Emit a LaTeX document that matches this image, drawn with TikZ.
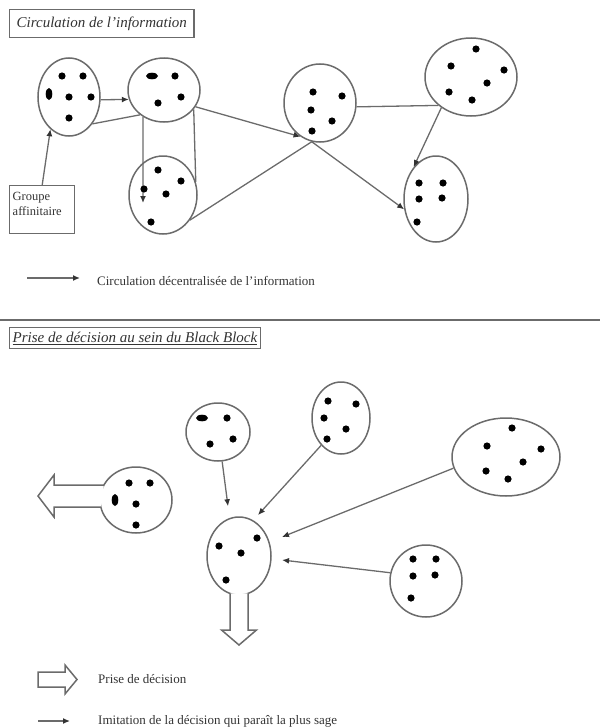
\documentclass[tikz,border=0pt]{standalone}
\usepackage{fontspec}
\setmainfont{Liberation Serif}
\usetikzlibrary{shapes.geometric,arrows.meta,calc}
\definecolor{ln}{gray}{0.42}
\definecolor{tx}{gray}{0.2}
\newcommand\mydot[2]{\fill (#1,#2) circle[radius=3.6pt];}
\newcommand\mydotv[2]{\fill (#1,#2) ellipse[x radius=3.3pt,y radius=6pt];}
\newcommand\mydoth[2]{\fill (#1,#2) ellipse[x radius=6pt,y radius=3.3pt];}
\begin{document}
\begin{tikzpicture}[x=1pt,y=-1pt,
  grp/.style={ellipse, draw=ln, line width=1.5pt, fill=white, inner sep=0pt},
  con/.style={draw=ln, line width=1.3pt},
  arr/.style={con, -{Latex[length=7pt,width=6pt,fill=black!80,color=black!80]}},
  blk/.style={draw=ln, line width=1.5pt, fill=white, line join=miter},
  txt/.style={font=\fontsize{13}{15}\selectfont, text=tx, inner sep=0pt},
  titlebox/.style={draw=ln, line width=1.4pt, font=\fontsize{15}{17}\selectfont, text=tx},
]
\useasboundingbox (0,0) rectangle (600,728);

% ---------- top part ----------
\node[titlebox, anchor=north west, inner xsep=7pt, minimum height=28pt] (t1) at (9,9) {\itshape Circulation de l'information};

\node[grp, minimum width=62pt, minimum height=78pt] (A) at (69,97) {};
\node[grp, minimum width=72pt, minimum height=64pt] (B) at (164,90) {};
\node[grp, minimum width=68pt, minimum height=78pt] (C) at (163,195) {};
\node[grp, minimum width=72pt, minimum height=78pt] (D) at (320,103) {};
\node[grp, minimum width=92pt, minimum height=78pt] (E) at (471,77) {};
\node[grp, minimum width=64pt, minimum height=86pt] (F) at (436,199) {};

\node[draw=ln, line width=1.4pt, anchor=north west, inner sep=3pt, align=left,
      text width=59pt, text height=12pt, text depth=30pt,
      font=\fontsize{12.5}{15}\selectfont, text=tx] (gr) at (9,185) {Groupe\\affinitaire};

\draw[arr] (gr.north) -- (A.240);
\draw[arr] (A.-5) -- (B.195);
\draw[con] (B.226) -- (A.-49);
\draw[arr] (B.232) -- ($(C.center)+(-20,8)$);
\draw[con] (B.-33) -- (C.22);
\draw[arr] (B.-28) -- (D.240);
\draw[con] (C.-43) -- (D.258);
\draw[arr] (D.258) -- (F.198);
\draw[con] (D.-6) -- (E.221);
\draw[arr] (E.226) -- (F.125);

\mydot{62}{76}\mydot{83}{76}\mydotv{49}{94}\mydot{69}{97}\mydot{91}{97}\mydot{69}{118}
\mydoth{152}{76}\mydot{175}{76}\mydot{158}{103}\mydot{181}{97}
\mydot{158}{170}\mydot{181}{181}\mydot{144}{189}\mydot{166}{194}\mydot{151}{222}
\mydot{313}{92}\mydot{342}{96}\mydot{311}{110}\mydot{332}{121}\mydot{312}{131}
\mydot{476}{49}\mydot{451}{66}\mydot{504}{70}\mydot{487}{83}\mydot{449}{92}\mydot{472}{100}
\mydot{419}{183}\mydot{443}{183}\mydot{419}{199}\mydot{442}{198}\mydot{417}{222}

\coordinate (l1a) at (27,278);
\coordinate (l1b) at (80,278);
\draw[arr] (l1a) -- (l1b);
\node[txt, anchor=base west] (l1t) at (97,285) {Circulation décentralisée de l'information};

\draw[ln, line width=2pt] (0,320) -- (600,320);

% ---------- bottom part ----------
\node[titlebox, anchor=north west, inner xsep=3pt, inner ysep=1pt, minimum height=21pt] (t2) at (9,327) {\itshape\underline{Prise de décision au sein du Black Block}};

\node[grp, minimum width=72pt, minimum height=66pt] (G) at (136,500) {};
\node[grp, minimum width=64pt, minimum height=58pt] (H) at (218,432) {};
\node[grp, minimum width=64pt, minimum height=78pt] (I) at (239,556) {};
\node[grp, minimum width=58pt, minimum height=72pt] (J) at (341,418) {};
\node[grp, minimum width=108pt, minimum height=78pt] (K) at (506,457) {};
\node[grp, minimum width=72pt, minimum height=72pt] (L) at (426,581) {};

\draw[blk] ($(G.center)+(-32.1,-15)$) -- ($(G.center)+(-82,-15)$) -- ($(G.center)+(-82,-25)$)
  -- ($(G.center)+(-98,-4)$) -- ($(G.center)+(-82,17)$) -- ($(G.center)+(-82,7)$) -- ($(G.center)+(-35.2,7)$);
\draw[blk] ($(I.center)+(-9,37.4)$) -- ($(I.center)+(-9,74)$) -- ($(I.center)+(-17.5,74)$)
  -- ($(I.center)+(0,89)$) -- ($(I.center)+(17.5,74)$) -- ($(I.center)+(9,74)$) -- ($(I.center)+(9,37.4)$);

\draw[arr] (H.278) -- ($(I.north)+(-11,-10)$);
\draw[arr] (J.234) -- ($(I.center)+(19,-41)$);
\draw[arr] (K.192) -- ($(I.center)+(43,-19)$);
\draw[arr] (L.167) -- ($(I.center)+(43,4)$);

\mydot{129}{483}\mydot{150}{483}\mydotv{115}{500}\mydot{136}{504}\mydot{136}{525}
\mydoth{202}{418}\mydot{227}{418}\mydot{210}{444}\mydot{233}{439}
\mydot{219}{546}\mydot{257}{538}\mydot{241}{553}\mydot{226}{580}
\mydot{328}{401}\mydot{356}{404}\mydot{324}{418}\mydot{346}{429}\mydot{327}{439}
\mydot{512}{428}\mydot{487}{446}\mydot{541}{449}\mydot{523}{462}\mydot{486}{471}\mydot{508}{479}
\mydot{413}{559}\mydot{436}{559}\mydot{413}{576}\mydot{435}{575}\mydot{411}{598}

% ---------- legend ----------
\draw[blk] (38,672) -- (65,672) -- (65,665) -- (77,679.5) -- (65,694) -- (65,687) -- (38,687) -- cycle;
\node[txt, anchor=base west] (l2t) at (98,683) {Prise de décision};
\coordinate (l3a) at (38,721);
\coordinate (l3b) at (70,721);
\draw[arr] (l3a) -- (l3b);
\node[txt, anchor=base west] (l3t) at (98,724) {Imitation de la décision qui paraît la plus sage};
\end{tikzpicture}
\end{document}
